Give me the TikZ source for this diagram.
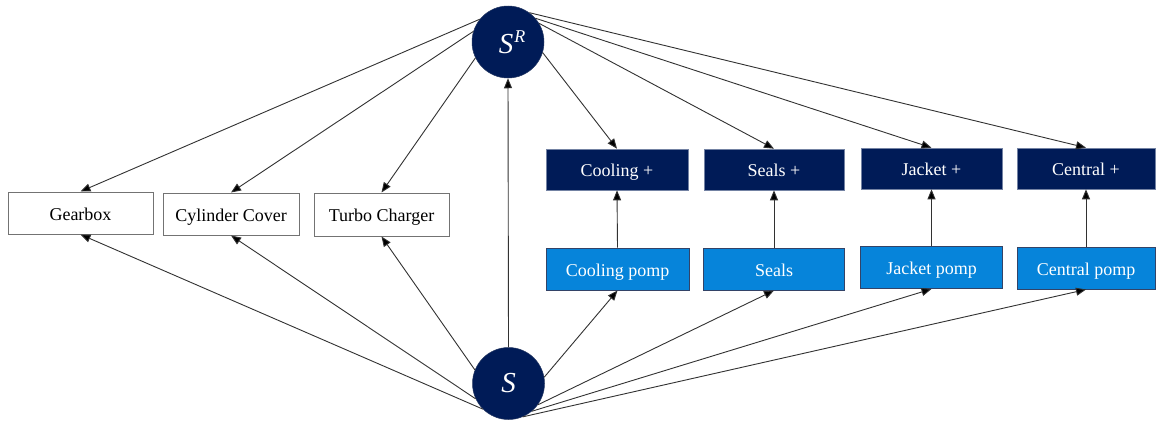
\documentclass[tikz,border=0pt]{standalone}
\usepackage{fontspec}
\setmainfont{Liberation Serif}
\newfontfamily\tnr{Liberation Serif}
\usetikzlibrary{arrows.meta}
\definecolor{navy}{RGB}{0,27,87}
\definecolor{pblue}{RGB}{6,132,218}
\definecolor{edgegray}{RGB}{50,50,50}
\begin{document}
\begin{tikzpicture}[x=1pt,y=-1pt,
  edge/.style={draw=edgegray, line width=0.9pt, -{Triangle[length=10pt,width=8pt,fill=black]}},
  boxbase/.style={rectangle, inner sep=0pt, text height=14pt, text depth=0pt, font=\tnr\fontsize{18}{20}\selectfont},
  wbox/.style={boxbase, draw=black!55, line width=1pt, fill=white, minimum height=42pt},
  nbox/.style={boxbase, draw=navy!55!white, line width=0.6pt, fill=navy, text=white, minimum height=41pt},
  pbox/.style={boxbase, draw=navy!60!gray, line width=1pt, fill=pblue, text=white, minimum height=42pt},
  circ/.style={circle, fill=navy, draw=navy!70!gray, line width=0.5pt, minimum size=72pt, inner sep=0pt, text=white, font=\tnr\itshape\fontsize{29}{30}\selectfont}]
\useasboundingbox (0,0) rectangle (1156,423);
\fill[white] (0,0) rectangle (1156,423);

\node[circ] (SR) at (508,42) {\hspace{8pt}S\hspace{1pt}\raisebox{11pt}{\fontsize{18}{18}\selectfont R}};
\node[circ] (S) at (508.5,383.5) {S};

\node[wbox, minimum width=145pt] (gear) at (80.5,213) {Gearbox};
\node[wbox, minimum width=136pt] (cyl) at (231,214) {Cylinder Cover};
\node[wbox, minimum width=135pt, minimum height=43pt] (turbo) at (381.5,214.5) {Turbo Charger};

\node[nbox, minimum width=142pt] (coolp) at (617,169.5) {Cooling +};
\node[nbox, minimum width=140pt] (sealp) at (774,169.5) {Seals +};
\node[nbox, minimum width=141pt] (jackp) at (931.5,168.5) {Jacket +};
\node[nbox, minimum width=138pt] (centp) at (1086,168.5) {Central +};

\node[pbox, minimum width=143pt] (cool) at (617.5,269) {Cooling pomp};
\node[pbox, minimum width=141pt] (seal) at (774,269) {Seals};
\node[pbox, minimum width=142pt] (jack) at (931.5,267.5) {Jacket pomp};
\node[pbox, minimum width=138pt] (cent) at (1086,268) {Central pomp};

\draw[edge] (SR.141) -- (gear.north);
\draw[edge] (SR.163) -- (cyl.north);
\draw[edge] (SR.206) -- (turbo.north);
\draw[edge] (SR.-17) -- (coolp.north);
\draw[edge] (SR.31) -- (sealp.north);
\draw[edge] (SR.41) -- (jackp.north);
\draw[edge] (SR.54) -- (centp.north);

\draw[edge] (S.225) -- (gear.south);
\draw[edge] (S.205) -- (cyl.south);
\draw[edge] (S.158) -- (turbo.south);
\draw[edge] (S.north) -- (SR.south);
\draw[edge] (S.10) -- (cool.south);
\draw[edge] (S.-36) -- (seal.south);
\draw[edge] (S.-50) -- (jack.south);
\draw[edge] (S.-67) -- (cent.south);

\draw[edge] (cool.north) -- (coolp.south);
\draw[edge] (seal.north) -- (sealp.south);
\draw[edge] (jack.north) -- (jackp.south);
\draw[edge] (cent.north) -- (centp.south);
\end{tikzpicture}
\end{document}
